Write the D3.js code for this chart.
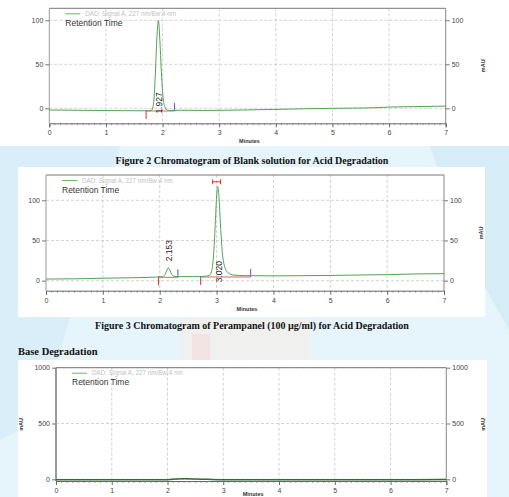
<!DOCTYPE html>
<html>
<head>
<meta charset="utf-8">
<script src="https://cdn.jsdelivr.net/npm/d3@7"></script>
<style>
  body { margin: 0; background: #fff; }
  svg { display: block; }
</style>
</head>
<body>
<div id="chart"></div>
<script>
// ===== data =====
const minuteTicks = [0, 1, 2, 3, 4, 5, 6, 7];

// Figure 2: blank solution
const blankTime = [0, 0.2, 0.5, 1.0, 1.5, 1.75, 1.80, 1.84, 1.87, 1.90, 1.927, 1.95, 1.98, 2.01, 2.04, 2.08, 2.15, 2.3, 2.8, 3.0, 3.5, 4.0, 4.5, 5.0, 5.7, 6.0, 6.5, 7.0];
const blankMau  = [-2, -2, -2.2, -2.5, -2.7, -2.8, -2.5, 5, 35, 80, 100, 80, 40, 12, 2, -2, -2.5, -2.2, -2.4, -2.3, -1.8, -1.2, -0.5, 0, 0.6, 1.4, 2, 2.5];
const blankTicks = [0, 50, 100];
const blankRt = ['1.927'];
const blankLabelAt = [-6];        // mAU where the rotated label starts
const blankStart = [1.71];        // red integration start
const blankEnd = [2.21];          // blue integration end
const blankBase = [-3];

// Figure 3: perampanel
const peramTime = [0, 0.5, 1.0, 1.5, 1.95, 2.05, 2.09, 2.12, 2.153, 2.18, 2.21, 2.25, 2.32, 2.6, 2.8, 2.88, 2.92, 2.95, 2.98, 3.0, 3.02, 3.04, 3.07, 3.10, 3.14, 3.2, 3.3, 3.5, 4.0, 5.0, 6.0, 6.6, 7.0];
const peramMau  = [2, 2.3, 3, 3.6, 4.5, 5, 7, 12, 16, 13, 8, 5.5, 5, 5, 5.5, 7, 14, 35, 75, 104, 117, 106, 68, 36, 18, 10, 7, 6.2, 6, 6.5, 7.5, 8.5, 8.7];
const peramTicks = [0, 50, 100];
const peramRt = ['2.153', '3.020'];
const peramLabelAt = [24, -2];
const peramStart = [1.98, 2.72];
const peramEnd = [2.32, 3.6];
const peramBase = [4.2, 4.6];

// Base degradation
const baseTime = [0, 1.0, 2.0, 2.15, 2.25, 2.35, 2.5, 2.65, 2.8, 3.0, 4.0, 5.0, 6.0, 7.0];
const baseMau  = [-4, -4, -3.5, 2, 6, 5, 3, 1, -2, -3.5, -3.5, -3, -3, -2.5];
const baseTicks = [0, 500, 1000];

// ===== page =====
const W = 509, H = 497;
const svg = d3.select('#chart').append('svg')
  .attr('width', W).attr('height', H);

// watermark-ish background behind captions
const bg = svg.append('g');
bg.append('rect').attr('x', 0).attr('y', 146).attr('width', W).attr('height', H - 146)
  .attr('fill', '#e6f4fb');
bg.append('path').attr('d', 'M0,146 L120,146 L40,420 L0,440 Z').attr('fill', '#d9eef8');
bg.append('path').attr('d', 'M509,146 L430,146 L470,260 L509,330 Z').attr('fill', '#d6edf8');
bg.append('rect').attr('x', 180).attr('y', 318).attr('width', 130).attr('height', 42)
  .attr('fill', '#f4efe9').attr('opacity', 0.7);
bg.append('rect').attr('x', 192).attr('y', 334).attr('width', 18).attr('height', 26)
  .attr('fill', '#f3dede').attr('opacity', 0.8);
bg.append('rect').attr('x', 18).attr('y', 167).attr('width', 467).attr('height', 150).attr('fill', '#fff');
bg.append('rect').attr('x', 18).attr('y', 360).attr('width', 469).attr('height', 137).attr('fill', '#fff');

// captions
svg.append('text').attr('x', 252).attr('y', 164)
  .attr('text-anchor', 'middle')
  .attr('font-family', '"Liberation Serif", serif').attr('font-weight', 'bold')
  .attr('font-size', 10).attr('fill', '#111')
  .text('Figure 2 Chromatogram of Blank solution for Acid Degradation');
svg.append('text').attr('x', 252).attr('y', 328.5)
  .attr('text-anchor', 'middle')
  .attr('font-family', '"Liberation Serif", serif').attr('font-weight', 'bold')
  .attr('font-size', 10).attr('fill', '#111')
  .text('Figure 3 Chromatogram of Perampanel (100 \u00b5g/ml) for Acid Degradation');
svg.append('text').attr('x', 18).attr('y', 354.5)
  .attr('font-family', '"Liberation Serif", serif').attr('font-weight', 'bold')
  .attr('font-size', 10.5).attr('fill', '#111')
  .text('Base Degradation');

// ===== one chromatogram =====
function drawPanel(p) {
  const g = svg.append('g');
  const x = d3.scaleLinear().domain([0, 7]).range([p.left, p.right]);
  const y = d3.scaleLinear().domain(p.yDomain).range([p.bottom, p.top]);

  // grid
  g.append('g').selectAll('line.vg').data(minuteTicks.slice(1, -1)).join('line')
    .attr('x1', d => x(d)).attr('x2', d => x(d))
    .attr('y1', p.top).attr('y2', p.bottom)
    .attr('stroke', '#c8c8c8').attr('stroke-width', 0.8).attr('stroke-dasharray', '3,2');
  g.append('g').selectAll('line.hg').data(p.yTicks).join('line')
    .attr('x1', p.left).attr('x2', p.right)
    .attr('y1', d => y(d)).attr('y2', d => y(d))
    .attr('stroke', '#c8c8c8').attr('stroke-width', 0.8).attr('stroke-dasharray', '3,2');

  // frame
  g.append('line').attr('x1', p.left).attr('x2', p.right).attr('y1', p.top).attr('y2', p.top)
    .attr('stroke', '#777').attr('stroke-width', 1);
  g.append('line').attr('x1', p.left).attr('x2', p.left).attr('y1', p.top).attr('y2', p.bottom)
    .attr('stroke', '#999').attr('stroke-width', p.leftWidth || 1);
  g.append('line').attr('x1', p.right).attr('x2', p.right).attr('y1', p.top).attr('y2', p.bottom)
    .attr('stroke', '#888').attr('stroke-width', 1);

  // x axis
  const xAxis = d3.axisBottom(x).tickValues(minuteTicks).tickSize(4).tickPadding(3)
    .tickFormat(d3.format('d'));
  const xa = g.append('g').attr('transform', `translate(0,${p.bottom})`).call(xAxis);
  xa.select('.domain').attr('stroke', '#666');
  xa.selectAll('.tick line').attr('stroke', '#666');
  xa.selectAll('text').attr('font-size', 7).attr('fill', '#444')
    .attr('font-family', '"Liberation Sans", Arial, sans-serif');
  const minor = d3.range(0, 70).map(i => i / 10).filter(d => d % 1 !== 0);
  g.append('g').selectAll('line').data(minor).join('line')
    .attr('x1', d => x(d)).attr('x2', d => x(d))
    .attr('y1', p.bottom).attr('y2', p.bottom + 2)
    .attr('stroke', '#777').attr('stroke-width', 0.7);

  g.append('text').attr('x', (p.left + p.right) / 2 + 2)
    .attr('y', Math.min(p.bottom + 20, H - 1.5))
    .attr('text-anchor', 'middle').attr('font-size', 5.5).attr('font-weight', 'bold')
    .attr('font-family', '"Liberation Sans", Arial, sans-serif').attr('fill', '#333')
    .text('Minutes');

  // y axes
  const yFmt = d3.format('d');
  const yl = g.append('g').attr('transform', `translate(${p.left},0)`)
    .call(d3.axisLeft(y).tickValues(p.yTicks).tickSize(4).tickPadding(2).tickFormat(yFmt));
  const yr = g.append('g').attr('transform', `translate(${p.right},0)`)
    .call(d3.axisRight(y).tickValues(p.yTicks).tickSize(4).tickPadding(2).tickFormat(yFmt));
  [yl, yr].forEach(a => {
    a.select('.domain').remove();
    a.selectAll('.tick line').attr('stroke', '#777');
    a.selectAll('text').attr('font-size', 7).attr('fill', '#444')
      .attr('font-family', '"Liberation Sans", Arial, sans-serif');
  });
  const mid = (p.top + p.bottom) / 2;
  g.append('text').attr('transform', `translate(${p.right + 39},${mid}) rotate(-90)`)
    .attr('text-anchor', 'middle').attr('font-size', 5.5).attr('font-weight', 'bold')
    .attr('font-family', '"Liberation Sans", Arial, sans-serif').attr('fill', '#333')
    .text('mAU');
  if (p.leftTitle) {
    g.append('text').attr('transform', `translate(${p.left - 33},${mid}) rotate(-90)`)
      .attr('text-anchor', 'middle').attr('font-size', 5.5).attr('font-weight', 'bold')
      .attr('font-family', '"Liberation Sans", Arial, sans-serif').attr('fill', '#333')
      .text('mAU');
  }

  // integration baselines and marks
  (p.starts || []).forEach((s, i) => {
    const e = p.ends[i];
    const by = y(p.bases[i]);
    g.append('line').attr('x1', x(s)).attr('x2', x(e)).attr('y1', by).attr('y2', by)
      .attr('stroke', '#e05050').attr('stroke-width', 0.9);
    g.append('line').attr('x1', x(s)).attr('x2', x(s)).attr('y1', by - 1).attr('y2', by + 8)
      .attr('stroke', '#e03030').attr('stroke-width', 1);
    g.append('line').attr('x1', x(e)).attr('x2', x(e)).attr('y1', by - 8).attr('y2', by)
      .attr('stroke', '#5050e0').attr('stroke-width', 1);
  });

  // trace
  const line = d3.line().x(d => x(d[0])).y(d => y(d[1])).curve(d3.curveMonotoneX);
  g.append('path').datum(d3.zip(p.time, p.mau))
    .attr('fill', 'none').attr('stroke', p.traceColor).attr('stroke-width', p.traceWidth)
    .attr('d', line);

  // peak labels
  (p.rt || []).forEach((r, i) => {
    g.append('text')
      .attr('transform', `translate(${x(+r) + 4},${y(p.labelAt[i])}) rotate(-90)`)
      .attr('font-size', 8.5).attr('fill', '#222')
      .attr('font-family', '"Liberation Sans", Arial, sans-serif')
      .text(r);
  });

  // peak bracket
  if (p.bracket) {
    const [a, b, v] = p.bracket;
    const by = y(v);
    g.append('line').attr('x1', x(a)).attr('x2', x(b)).attr('y1', by).attr('y2', by)
      .attr('stroke', '#e03030').attr('stroke-width', 1);
    [a, b].forEach(t => g.append('line').attr('x1', x(t)).attr('x2', x(t))
      .attr('y1', by - 2.5).attr('y2', by + 2.5).attr('stroke', '#e03030').attr('stroke-width', 1));
  }

  // legend
  const lx = p.left + 16, ly = p.top + 5.5;
  g.append('line').attr('x1', lx).attr('x2', lx + 15).attr('y1', ly).attr('y2', ly)
    .attr('stroke', '#6ab46a').attr('stroke-width', 1);
  g.append('text').attr('x', lx + 20).attr('y', ly + 2.2)
    .attr('font-size', 6.3).attr('fill', '#c2c2c2')
    .attr('font-family', '"Liberation Sans", Arial, sans-serif')
    .text('DAD: Signal A, 227 nm/Bw:4 nm');
  g.append('text').attr('x', lx).attr('y', ly + 12)
    .attr('font-size', 8.5).attr('fill', '#333')
    .attr('font-family', '"Liberation Sans", Arial, sans-serif')
    .text('Retention Time');
}

drawPanel({
  left: 49.3, right: 445.7, top: 8.3, bottom: 123.3, yDomain: [-17, 113.6],
  yTicks: blankTicks, time: blankTime, mau: blankMau,
  rt: blankRt, labelAt: blankLabelAt,
  starts: blankStart, ends: blankEnd, bases: blankBase,
  traceColor: '#55a055', traceWidth: 1
});

drawPanel({
  left: 46, right: 444, top: 175, bottom: 290.7, yDomain: [-12.5, 131.5],
  yTicks: peramTicks, time: peramTime, mau: peramMau,
  rt: peramRt, labelAt: peramLabelAt,
  starts: peramStart, ends: peramEnd, bases: peramBase,
  bracket: [2.93, 3.07, 123],
  traceColor: '#55a055', traceWidth: 1
});

drawPanel({
  left: 56, right: 446.3, top: 367.7, bottom: 481, yDomain: [-15, 1000],
  yTicks: baseTicks, time: baseTime, mau: baseMau,
  leftTitle: true, leftWidth: 2,
  traceColor: '#2f6e2f', traceWidth: 1.5
});
</script>
</body>
</html>
